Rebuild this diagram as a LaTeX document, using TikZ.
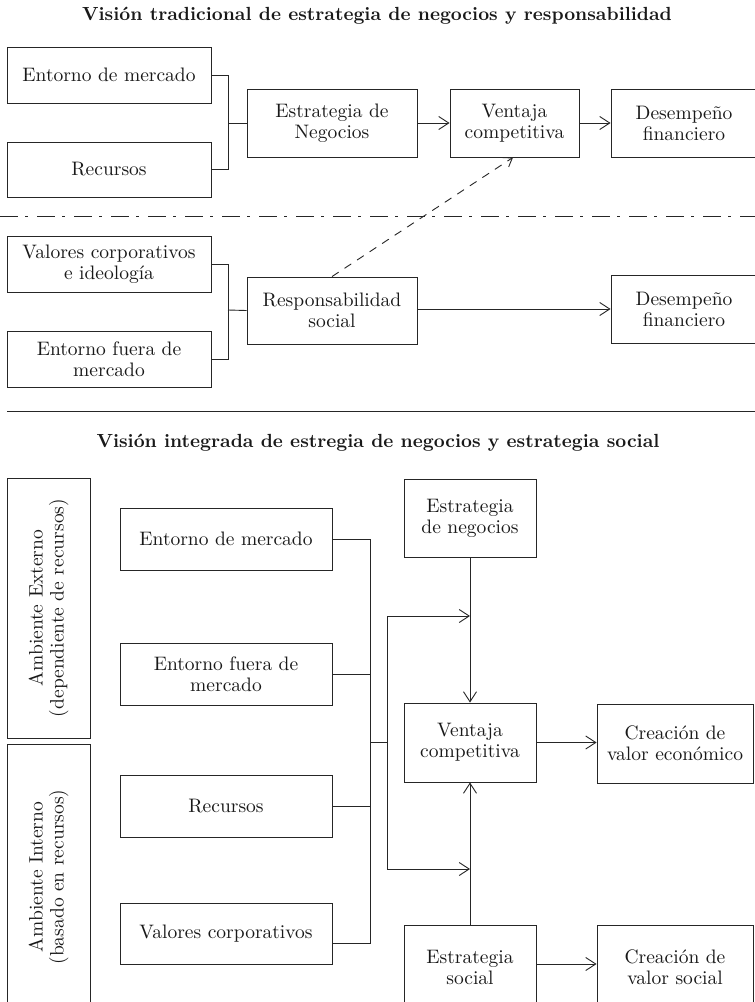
\documentclass[tikz,border=0pt]{standalone}
\usepackage{fontspec}
\setmainfont{lmroman10-regular}[Extension=.otf, BoldFont=lmroman10-bold]
\usetikzlibrary{arrows.meta,calc}

\tikzset{
  ink/.style={draw=black!85, line width=0.9pt},
  box/.style={ink, rectangle, align=center, inner sep=2pt, text=black!90,
              font=\fontsize{19.5}{21}\selectfont},
  heading/.style={font=\fontsize{19}{22}\selectfont\bfseries, text=black!90},
  link/.style={ink},
  arr/.style={ink, -{Straight Barb[length=10pt,width=13pt,line width=0.9pt]}},
  dasharr/.style={ink, dash pattern=on 8pt off 7pt,
                  -{Straight Barb[length=8pt,width=11pt,line width=0.9pt]}},
  divider/.style={ink, dash pattern=on 18pt off 7pt on 3pt off 9pt},
}

\begin{document}
\begin{tikzpicture}[x=1pt,y=-1pt]
\useasboundingbox (0,0) rectangle (755,1002);
\clip (0,0) rectangle (755,1002);
\fill[white] (0,0) rectangle (755,1002);

% ---------- traditional view ----------
\node[heading] (t1) at (377,16) {Visión tradicional de estrategia de negocios y responsabilidad};

\node[box, minimum width=204, minimum height=56] (em1) at (109,75) {Entorno de mercado};
\node[box, minimum width=204, minimum height=55] (rec1) at (109,169.5) {Recursos};
\node[box, minimum width=170, minimum height=68] (en1) at (332,123) {Estrategia de\\Negocios};
\node[box, minimum width=129, minimum height=68] (vc1) at (514.5,123) {Ventaja\\competitiva};
\node[box, minimum width=146, minimum height=68] (df1) at (684,123) {Desempeño\\financiero};

\coordinate (j1) at (228,123);
\draw[link] (em1.east) -| (j1);
\draw[link] (rec1.east) -| (j1);
\draw[link] (j1) -- (en1.west);
\draw[arr] (en1) -- (vc1);
\draw[arr] (vc1) -- (df1);

% separator between market and non-market sides
\draw[divider] (0,216) -- (755,216);

\node[box, minimum width=204, minimum height=56] (vci) at (109,264) {Valores corporativos\\e ideología};
\node[box, minimum width=204, minimum height=56] (efm1) at (109,359) {Entorno fuera de\\mercado};
\node[box, minimum width=170, minimum height=67] (rs) at (332,310.5) {Responsabilidad\\social};
\node[box, minimum width=146, minimum height=68] (df2) at (684,309) {Desempeño\\financiero};

\coordinate (j2) at (228,310);
\draw[link] (vci.east) -| (j2);
\draw[link] (efm1.east) -| (j2);
\draw[link] (j2) -- (rs.west);
\draw[arr] (rs.east |- df2) -- (df2.west);
\draw[dasharr] (rs.north) -- ([xshift=-1.5pt]vc1.south);

\draw[ink] (7,411) -- (755,411);

% ---------- integrated view ----------
\node[heading] (t2) at (378,443) {Visión integrada de estregia de negocios y estrategia social};

\node[box, rotate=90, minimum width=260, minimum height=83] (ae) at (48.5,608)
  {Ambiente Externo\\(dependiente de recursos)};
\node[box, rotate=90, minimum width=266, minimum height=83] (ai) at (48.5,877)
  {Ambiente Interno\\(basado en recursos)};

\node[box, minimum width=212, minimum height=62] (em2) at (226,539) {Entorno de mercado};
\node[box, minimum width=212, minimum height=62] (efm2) at (226,674) {Entorno fuera de\\mercado};
\node[box, minimum width=212, minimum height=62] (rec2) at (226,806) {Recursos};
\node[box, minimum width=212, minimum height=61] (vc2) at (226,933.5) {Valores corporativos};

\node[box, minimum width=132, minimum height=78] (en2) at (470,518) {Estrategia\\de negocios};
\node[box, minimum width=132, minimum height=79] (vent) at (470,742.5) {Ventaja\\competitiva};
\node[box, minimum width=156, minimum height=79] (cve) at (675,743.5) {Creación de\\valor económico};
\node[box, minimum width=132, minimum height=84] (es) at (470,967) {Estrategia\\social};
\node[box, minimum width=156, minimum height=84] (cvs) at (675,967) {Creación de\\valor social};

% collecting bus on the left
\coordinate (bus) at (370,0);
\coordinate (vcx) at ([yshift=-10pt]vc2.east);
\draw[link] (em2.east) -- (em2.east -| bus) -- (vcx -| bus) -- (vcx);
\draw[link] (efm2.east) -- (efm2.east -| bus);
\draw[link] (rec2.east) -- (rec2.east -| bus);

\coordinate (ja) at (bus |- vent.east);
\coordinate (jb) at (387,742.5);
\coordinate (jt) at (387,616);
\coordinate (jd) at (387,869);
\coordinate (pt) at (vent.north |- jt);
\coordinate (pd) at (vent.south |- jd);
\draw[link] (ja) -- (jb);
\draw[link] (jt) -- (jd);
\draw[arr] (jt) -- (pt);
\draw[arr] (jd) -- (pd);

\draw[arr] (en2.south) -- (vent.north);
\draw[arr] (es.north) -- (vent.south);
\draw[arr] (vent.east) -- (vent.east -| cve.west);
\draw[arr] (es.east |- 0,964) -- (cvs.west |- 0,964);
\end{tikzpicture}
\end{document}
